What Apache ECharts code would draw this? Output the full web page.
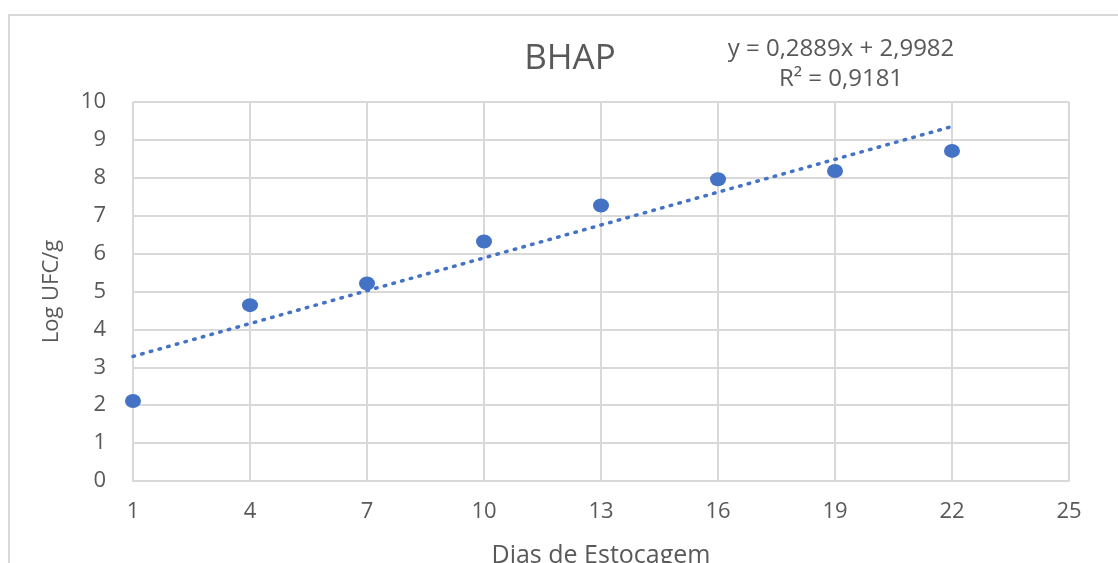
<!DOCTYPE html>
<html>
<head>
<meta charset="utf-8">
<script src="https://cdn.jsdelivr.net/npm/echarts@6/dist/echarts.min.js"></script>
<style>
  html, body { margin: 0; padding: 0; background: #fff; }
  #chart { width: 1118px; height: 563px; }
</style>
</head>
<body>
<div id="chart"></div>
<script>
// Storage days shown on the x axis
const dayTicks = ['1', '4', '7', '10', '13', '16', '19', '22', '25'];
// Measured days and counts (log UFC/g)
const days = ['1', '4', '7', '10', '13', '16', '19', '22'];
const logUfc = [2.11, 4.64, 5.21, 6.32, 7.27, 7.96, 8.18, 8.71];
// Linear trend from the fitted equation
const slope = 0.2889;
const intercept = 2.9982;
const rSquared = 0.9181;
const trendDays = ['1', '22'];

const textColor = '#595959';
const gridColor = '#d9d9d9';
const blue = '#4472C4';
const font = 'Open Sans';

const fmt = (v, d) => v.toFixed(d).replace('.', ',');

const chart = echarts.init(document.getElementById('chart'), null, { renderer: 'canvas' });

chart.setOption({
  animation: false,
  backgroundColor: '#fff',
  textStyle: { fontFamily: font },
  grid: { left: 133, right: 49, top: 102, bottom: 82, containLabel: false, outerBoundsMode: 'none' },
  graphic: [
    {
      type: 'rect',
      shape: { x: 9, y: 15, width: 1200, height: 600 },
      style: { fill: null, stroke: gridColor, lineWidth: 2 },
      silent: true
    },
    {
      type: 'text',
      x: 570, y: 59,
      style: {
        text: 'BHAP', fill: textColor, font: '35px "' + font + '"',
        textAlign: 'center', textVerticalAlign: 'middle'
      }
    },
    {
      type: 'text',
      x: 841, y: 64,
      style: {
        text: 'y = ' + fmt(slope, 4) + 'x + ' + fmt(intercept, 4) + '\nR² = ' + fmt(rSquared, 4),
        fill: textColor, font: '24px "' + font + '"', lineHeight: 30,
        textAlign: 'center', textVerticalAlign: 'middle'
      }
    }
  ],
  xAxis: {
    type: 'category',
    data: dayTicks,
    boundaryGap: false,
    name: 'Dias de Estocagem',
    nameLocation: 'middle',
    nameGap: 62,
    nameTextStyle: { color: textColor, fontSize: 25, fontFamily: font },
    axisLine: { lineStyle: { color: gridColor, width: 2 } },
    axisTick: { show: false },
    axisLabel: { color: textColor, fontSize: 22, margin: 20, fontFamily: font },
    splitLine: { show: true, lineStyle: { color: gridColor, width: 2 } }
  },
  yAxis: {
    type: 'value',
    min: 0, max: 10, interval: 1,
    name: 'Log UFC/g',
    nameLocation: 'middle',
    nameGap: 70,
    nameTextStyle: { color: textColor, fontSize: 22, fontFamily: font },
    axisLine: { show: false },
    axisTick: { show: false },
    axisLabel: { color: textColor, fontSize: 22, margin: 27, fontFamily: font },
    splitLine: { show: true, lineStyle: { color: gridColor, width: 2 } }
  },
  series: [
    {
      name: 'Tendência',
      type: 'line',
      data: trendDays.map(d => [d, slope * Number(d) + intercept]),
      showSymbol: false,
      lineStyle: { color: blue, width: 3.5, type: [1.5, 7.5], cap: 'round' },
      z: 3
    },
    {
      name: 'BHAP',
      type: 'scatter',
      data: days.map((d, i) => [d, logUfc[i]]),
      symbol: 'circle',
      symbolSize: [16, 14],
      itemStyle: { color: blue, opacity: 1 },
      z: 4
    }
  ]
});
</script>
</body>
</html>
